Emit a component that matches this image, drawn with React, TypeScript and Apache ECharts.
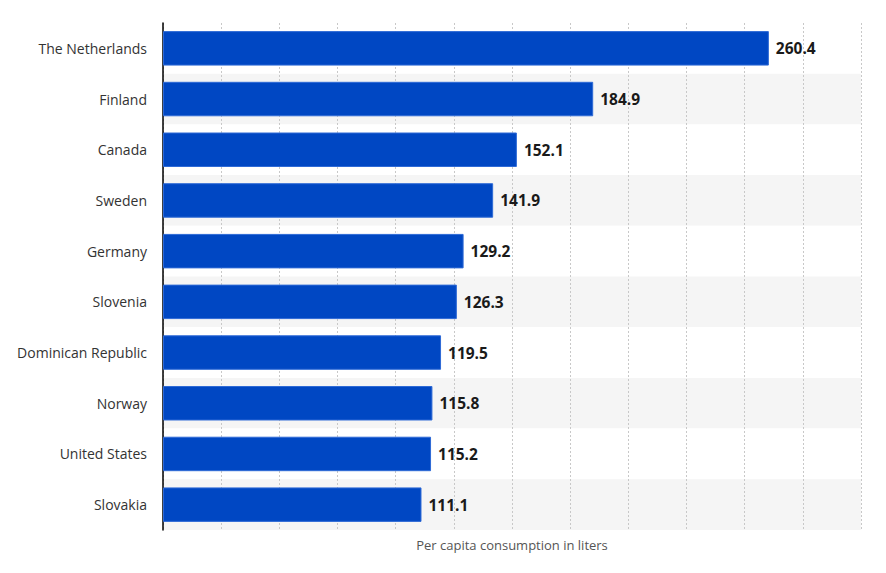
import React, { useEffect, useRef } from "react";
import * as echarts from "echarts";

const categories = [
  "The Netherlands",
  "Finland",
  "Canada",
  "Sweden",
  "Germany",
  "Slovenia",
  "Dominican Republic",
  "Norway",
  "United States",
  "Slovakia",
];
const values = [260.4, 184.9, 152.1, 141.9, 129.2, 126.3, 119.5, 115.8, 115.2, 111.1];
const axisTitle = "Per capita consumption in liters";

export default function App() {
  const ref = useRef<HTMLDivElement>(null);
  useEffect(() => {
    document.body.style.margin = "0";
    if (!ref.current) return;
    const chart = echarts.init(ref.current, undefined, { renderer: "svg" });
    chart.setOption({
      animation: false,
      textStyle: { fontFamily: "Open Sans" },
      grid: { left: 163, right: 25, top: 23, bottom: 43, containLabel: false },
      xAxis: {
        type: "value",
        min: 0,
        max: 300,
        interval: 25,
        name: axisTitle,
        nameLocation: "middle",
        nameGap: 8,
        nameTextStyle: { fontSize: 13, color: "#555", fontFamily: "Open Sans" },
        axisLabel: { show: false },
        axisLine: { show: false },
        axisTick: { show: false },
        splitLine: { show: true, lineStyle: { color: "#c8c8c8", type: [2, 2], width: 1 } },
      },
      yAxis: {
        type: "category",
        data: categories,
        inverse: true,
        axisLine: { show: true, lineStyle: { color: "#000", width: 1.5 } },
        axisTick: { show: false },
        axisLabel: { color: "#333", fontSize: 14, margin: 16, fontFamily: "Open Sans" },
        splitLine: { show: false },
        splitArea: { show: true, areaStyle: { color: ["#ffffff", "#f5f5f5"] } },
      },
      series: [
        {
          type: "bar",
          data: values,
          barCategoryGap: "32%",
          itemStyle: { color: "#0047c3", borderColor: "#2e6ad6", borderWidth: 1 },
          label: {
            show: true,
            position: "right",
            distance: 7,
            color: "#1a1a1a",
            fontWeight: "bold",
            fontSize: 15.5,
            fontFamily: "Open Sans",
            formatter: (p: any) => p.value.toFixed(1),
          },
        },
      ],
    });
    return () => chart.dispose();
  }, []);
  return <div ref={ref} style={{ width: 886, height: 573 }} />;
}
